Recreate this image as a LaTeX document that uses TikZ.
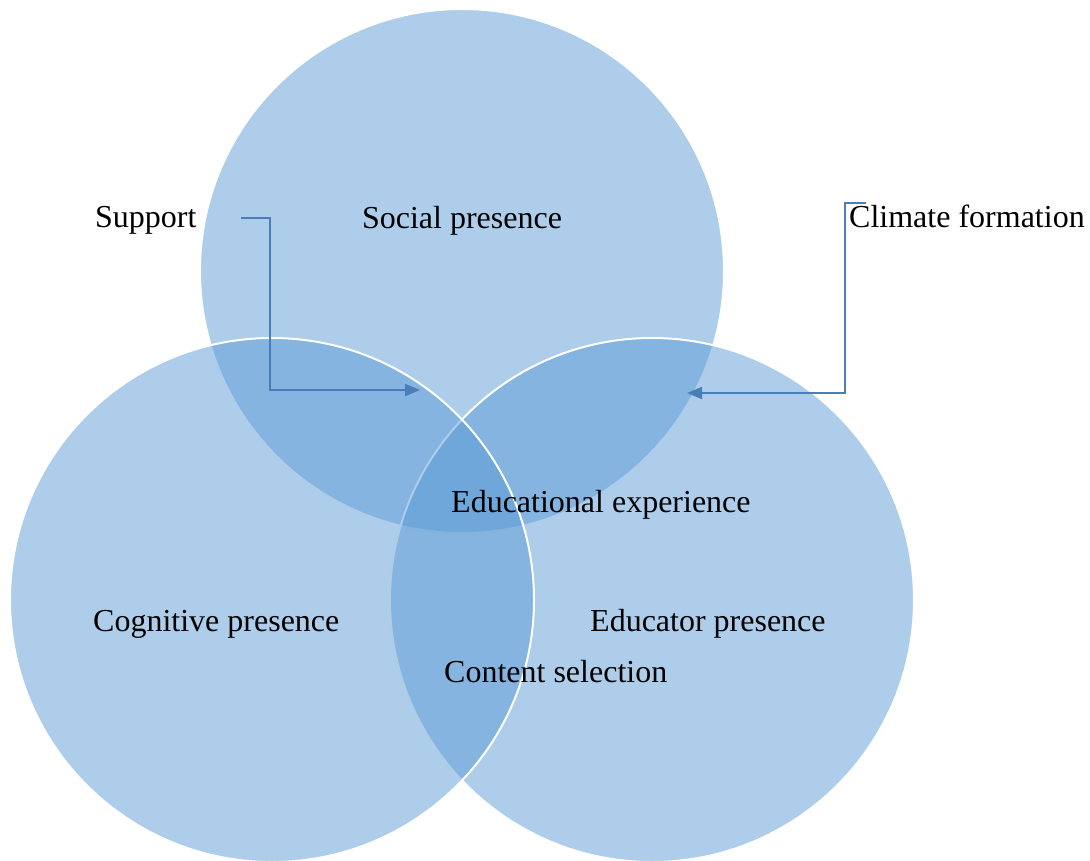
\documentclass[tikz,border=0pt]{standalone}
\usepackage{fontspec}
\setmainfont{Liberation Serif}
\usetikzlibrary{arrows.meta}
\definecolor{venn}{HTML}{5B9BD5}
\definecolor{linkblue}{HTML}{4A7EBB}
\begin{document}
\begin{tikzpicture}[x=1pt,y=-1pt,
  disc/.style={circle, minimum size=524pt, inner sep=0pt, fill=venn,
    fill opacity=0.5, draw=white, draw opacity=1, line width=2pt},
  label/.style={inner sep=0pt, font=\fontsize{32}{38}\selectfont, text=black},
  conn/.style={draw=linkblue, line width=1.8pt},
  tip/.style={-{Triangle[length=15pt,width=12pt]}}]
  \useasboundingbox (0,0) rectangle (1090,861);

  % the three presences, back to front
  \node[disc] (social) at (462,271) {};
  \node[disc] (educator) at (652,600) {};
  \node[disc] (cognitive) at (272,600) {};

  % labels
  \node[label, anchor=base west] (support) at (95,228) {Support};
  \node[label, anchor=base] (socialtxt) at (462,229) {Social presence};
  \node[label, anchor=base west] (climate) at (849,228) {Climate formation};
  \node[label, anchor=base west] (experience) at (451,512) {Educational experience};
  \node[label, anchor=base west] (cogtxt) at (93,631) {Cognitive presence};
  \node[label, anchor=base west] (edutxt) at (590,631) {Educator presence};
  \node[label, anchor=base west] (content) at (444,682) {Content selection};

  % elbow connectors
  \coordinate (s1) at (241,218);
  \coordinate (s3) at (270,390);
  \coordinate (s4) at (420,390);
  \draw[conn, tip] (s1) -| (s3) -- (s4);

  \coordinate (c1) at (866,203);
  \coordinate (c3) at (845,393);
  \coordinate (c4) at (687,393);
  \draw[conn, tip] (c1) -| (c3) -- (c4);
\end{tikzpicture}
\end{document}
